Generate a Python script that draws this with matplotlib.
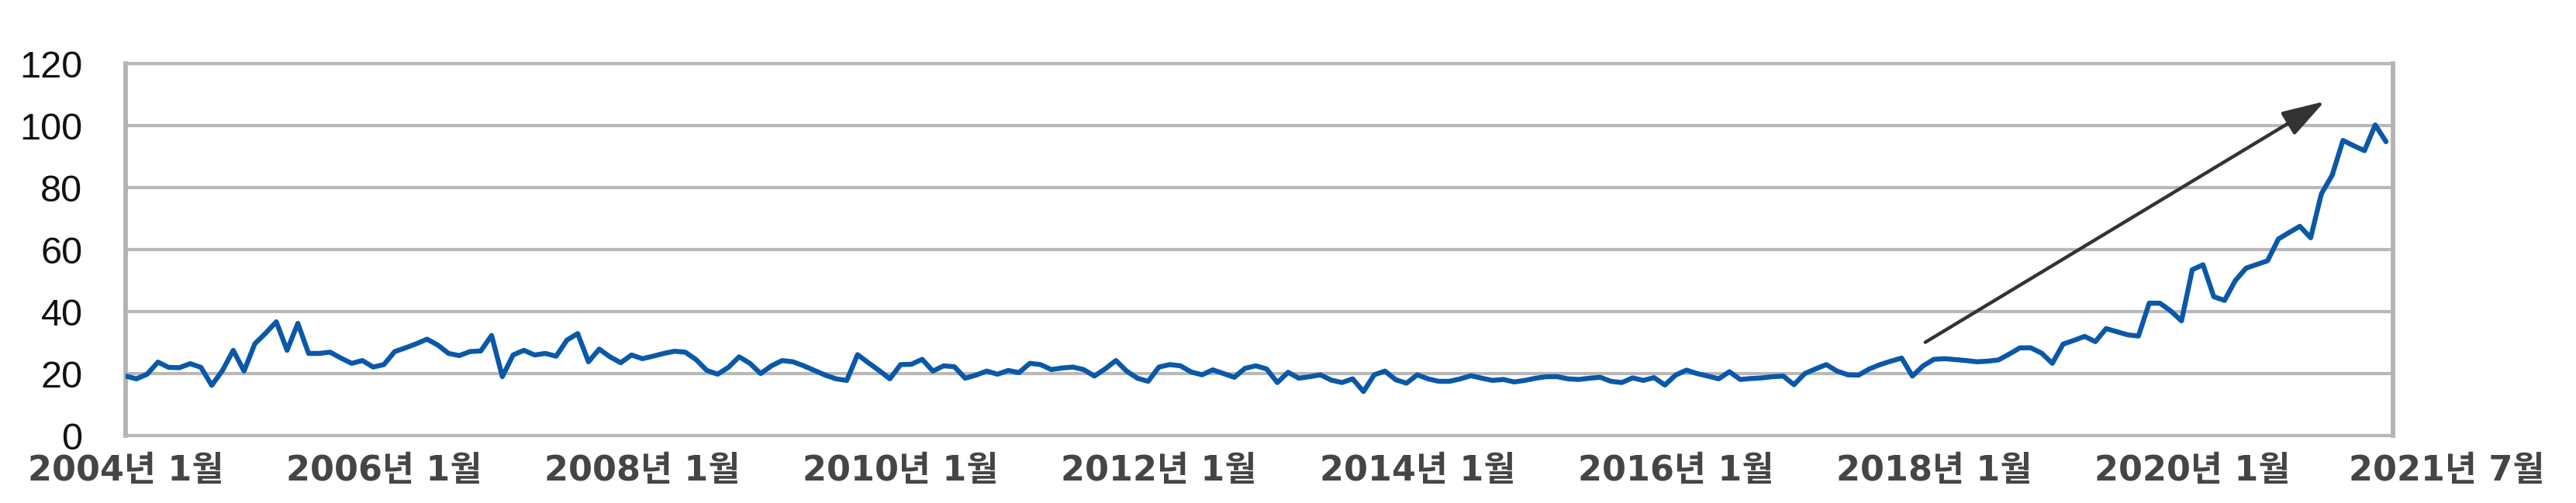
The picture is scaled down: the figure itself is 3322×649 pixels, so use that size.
import numpy as np
import matplotlib
matplotlib.use("Agg")
import matplotlib.pyplot as plt
import matplotlib.transforms as mtransforms

# monthly search index, 2004-01 .. 2021-07
y2004 = [19.2, 18.3, 19.8, 23.7, 22.0, 21.9, 23.2, 22.0, 16.2, 21.0, 27.5, 20.8]
y2005 = [29.6, 33.0, 36.7, 27.5, 36.2, 26.5, 26.5, 26.9, 25.0, 23.3, 24.2, 22.1]
y2006 = [22.9, 27.1, 28.3, 29.6, 31.1, 29.2, 26.5, 25.8, 27.1, 27.3, 32.3, 19.0]
y2007 = [26.0, 27.5, 26.0, 26.5, 25.6, 30.8, 32.9, 23.8, 27.9, 25.4, 23.5, 26.0]
y2008 = [24.8, 25.6, 26.5, 27.2, 26.9, 24.5, 21.0, 19.8, 22.0, 25.4, 23.3, 20.0]
y2009 = [22.5, 24.2, 23.8, 22.5, 21.0, 19.5, 18.3, 17.8, 26.1, 23.5, 21.0, 18.3]
y2010 = [22.9, 23.0, 24.6, 20.8, 22.5, 22.2, 18.5, 19.5, 20.8, 19.8, 21.0, 20.3]
y2011 = [23.3, 22.9, 21.3, 21.8, 22.1, 21.3, 19.2, 21.5, 24.2, 20.8, 18.5, 17.5]
y2012 = [22.1, 22.9, 22.5, 20.5, 19.6, 21.2, 20.0, 18.8, 21.7, 22.5, 21.5, 17.1]
y2013 = [20.4, 18.5, 19.0, 19.6, 17.9, 17.1, 18.3, 14.2, 19.6, 20.8, 18.0, 16.9]
y2014 = [19.6, 18.3, 17.5, 17.5, 18.3, 19.3, 18.5, 17.8, 18.1, 17.3, 17.8, 18.5]
y2015 = [19.0, 19.0, 18.3, 18.1, 18.5, 18.8, 17.5, 17.1, 18.6, 17.8, 18.7, 16.3]
y2016 = [19.5, 21.1, 20.0, 19.2, 18.3, 20.6, 18.1, 18.4, 18.6, 19.0, 19.2, 16.4]
y2017 = [20.0, 21.5, 22.9, 20.8, 19.6, 19.5, 21.5, 22.9, 24.0, 25.0, 19.2, 22.5]
y2018 = [24.6, 24.8, 24.5, 24.2, 23.8, 24.0, 24.4, 26.3, 28.3, 28.3, 26.6, 23.3]
y2019 = [29.5, 30.7, 32.0, 30.3, 34.5, 33.5, 32.5, 32.1, 42.7, 42.7, 40.2, 37.0]
y2020 = [53.5, 55.1, 44.8, 43.6, 50.0, 54.0, 55.2, 56.4, 63.4, 65.5, 67.5, 63.8]
y2021 = [78.0, 84.0, 95.2, 93.5, 91.9, 100.2, 94.8]

values = (y2004 + y2005 + y2006 + y2007 + y2008 + y2009 + y2010 + y2011
          + y2012 + y2013 + y2014 + y2015 + y2016 + y2017 + y2018 + y2019
          + y2020 + y2021)

tick_idx = [0, 24, 48, 72, 96, 120, 144, 168, 192, 210]
tick_labels = ["2004년 1월", "2006년 1월", "2008년 1월", "2010년 1월",
               "2012년 1월", "2014년 1월", "2016년 1월", "2018년 1월",
               "2020년 1월", "2021년 7월"]
yticks = [0, 20, 40, 60, 80, 100, 120]

# trend arrow (month index, value)
arrow_from = (167.2, 30.1)
arrow_to = (204.3, 107.8)


def main():
    W, H = 3323, 649
    fig = plt.figure(figsize=(W / 100, H / 100), dpi=100)
    fig.patch.set_facecolor("white")
    ax = fig.add_axes([162 / W, 87 / H, (3086 - 162) / W, 480 / H])

    x = np.arange(len(values))
    ax.plot(x, values, color="#0a58a8", lw=4.6,
            solid_joinstyle="round", solid_capstyle="round", zorder=3)

    ax.set_xlim(0, 210.65)
    ax.set_ylim(0, 120)

    # grid + frame
    ax.set_yticks(yticks)
    ax.yaxis.grid(True, color="#b8b8b8", lw=3)
    ax.set_axisbelow(True)
    for side in ["left", "right"]:
        ax.spines[side].set_color("#b3b3b3")
        ax.spines[side].set_linewidth(4.2)
    for side in ["top", "bottom"]:
        ax.spines[side].set_color("#b8b8b8")
        ax.spines[side].set_linewidth(3)

    ax.set_yticklabels([str(v) for v in yticks], fontsize=35,
                       family="Liberation Sans", color="#111111")
    ax.tick_params(axis="y", length=0, pad=40)
    ax.set_xticks([])

    # category labels under the axis
    trans = mtransforms.blended_transform_factory(ax.transData, ax.transAxes)
    for i, (pos, lab) in enumerate(zip(tick_idx, tick_labels)):
        xoff = 5.6 if i == len(tick_idx) - 1 else 0
        ax.text(pos + xoff, -0.094, lab, transform=trans, ha="center",
                va="center", fontsize=32, color="#454545", fontweight="bold",
                family=["DejaVu Sans", "Noto Sans CJK KR"], clip_on=False)

    ax.annotate("", xy=arrow_to, xytext=arrow_from,
                arrowprops=dict(arrowstyle="-|>,head_length=0.8,head_width=0.25",
                                color="#333333", lw=3.2, mutation_scale=42,
                                shrinkA=0, shrinkB=0), zorder=4)

    fig.savefig("out.png", dpi=100, facecolor="white")


if __name__ == "__main__":
    main()
